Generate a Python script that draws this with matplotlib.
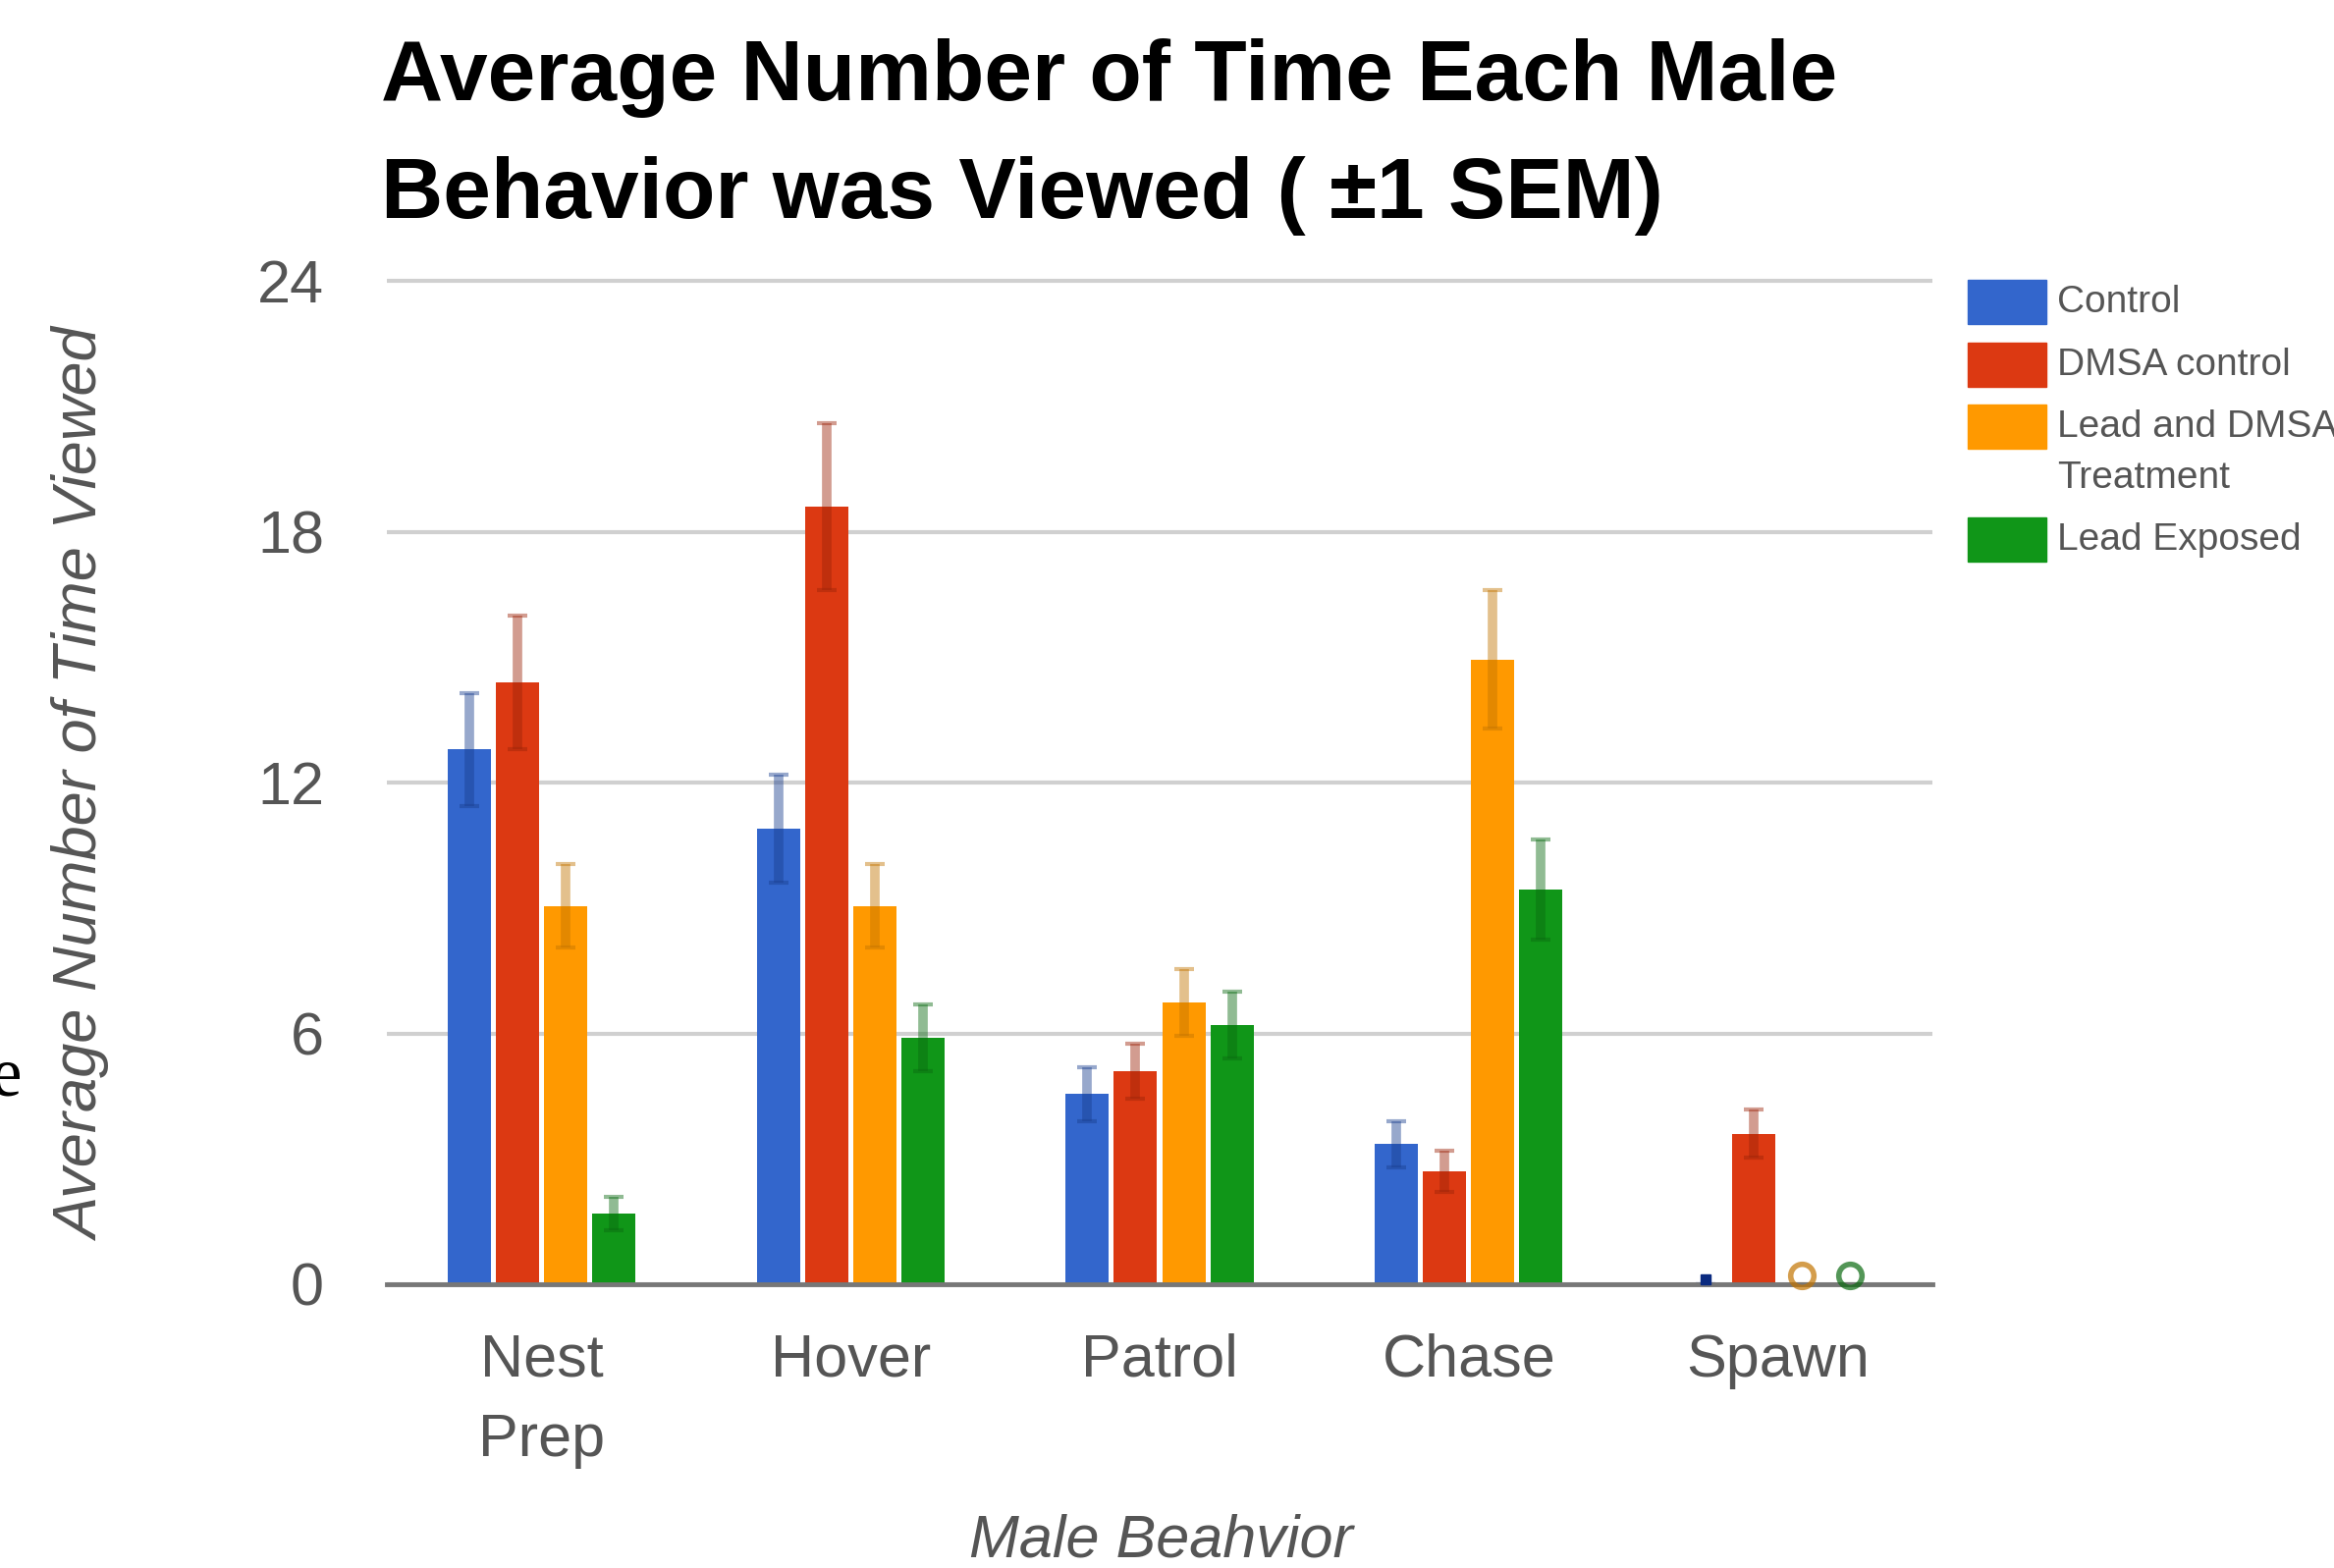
import numpy as np
import matplotlib
matplotlib.use("Agg")
import matplotlib.pyplot as plt
from matplotlib.patches import Rectangle

plt.rcParams['font.family'] = ['Liberation Sans', 'DejaVu Sans']

# data
behaviors = ["Nest\nPrep", "Hover", "Patrol", "Chase", "Spawn"]
series = ["Control", "DMSA control", "Lead and DMSA\nTreatment", "Lead Exposed"]
control = [12.8, 10.9, 4.55, 3.35, 0.0]
control_sem = [1.35, 1.3, 0.65, 0.55, 0.0]
dmsa = [14.4, 18.6, 5.1, 2.7, 3.6]
dmsa_sem = [1.6, 2.0, 0.65, 0.5, 0.58]
lead_dmsa = [9.05, 9.05, 6.75, 14.95, 0.0]
lead_dmsa_sem = [1.0, 1.0, 0.8, 1.65, 0.0]
lead = [1.7, 5.9, 6.2, 9.45, 0.0]
lead_sem = [0.4, 0.8, 0.8, 1.2, 0.0]
yticks = [0, 6, 12, 18, 24]

values = [control, dmsa, lead_dmsa, lead]
sems = [control_sem, dmsa_sem, lead_dmsa_sem, lead_sem]
colors = ['#3366cc', '#dc3912', '#ff9900', '#109618']
err_colors = ['#1a3f8f', '#9c2409', '#c27400', '#0a6a10']
zero_marks = ['s', None, 'o', 'o']   # how an empty bar shows on the baseline

W, H = 2377, 1597
fig = plt.figure(figsize=(W / 100, H / 100), dpi=100)
ax = fig.add_axes([394 / W, 1 - 1308 / H, (1968 - 394) / W, (1308 - 282.2) / H])

x = np.arange(len(behaviors))
slot = 0.156
bar_w = 0.14
for i in range(len(series)):
    xs = x + (i - 1.5) * slot
    ax.bar(xs, values[i], width=bar_w, color=colors[i], zorder=3)
    ax.errorbar(xs, values[i], yerr=sems[i], fmt='none', ecolor=err_colors[i],
                alpha=0.45, elinewidth=7, capsize=7, capthick=3, zorder=4)
    zero = np.array(values[i]) == 0
    if zero_marks[i] == 'o':
        ax.plot(xs[zero], np.full(zero.sum(), 0.22), 'o', mfc='none',
                mec=err_colors[i], mew=4, ms=17, alpha=0.7, zorder=7, clip_on=False)
    elif zero_marks[i] == 's':
        ax.plot(xs[zero], np.full(zero.sum(), 0.12), 's', color='#0a2a80',
                ms=7, zorder=7, clip_on=False)

ax.set_xlim(-0.5, len(behaviors) - 0.5)
ax.set_ylim(0, 24.1)
ax.set_yticks(yticks)
ax.set_xticks(x)
ax.set_xticklabels(behaviors, fontsize=44, color='#555555', linespacing=1.55)
ax.set_yticklabels([str(t) for t in yticks], fontsize=44, color='#555555')
ax.tick_params(axis='y', length=0, pad=46)
ax.tick_params(axis='x', length=0, pad=36)
ax.yaxis.grid(True, color='#d0d0d0', linewidth=3, zorder=0)
ax.set_axisbelow(True)
for s in ['top', 'right', 'left']:
    ax.spines[s].set_visible(False)
ax.spines['bottom'].set_color('#777777')
ax.spines['bottom'].set_linewidth(3.5)
ax.spines['bottom'].set_zorder(6)

# title in two lines
fig.text(388 / W, 1 - 102 / H, "Average Number of Time Each Male",
         fontsize=63, fontweight='bold', ha='left', va='baseline')
fig.text(388 / W, 1 - 222 / H, "Behavior was Viewed ( \u00b11 SEM)",
         fontsize=63, fontweight='bold', ha='left', va='baseline')

fig.text(85 / W, 1 - 800 / H, "Average Number of Time Viewed", rotation=90,
         fontsize=45.5, style='italic', color='#555555', ha='center', va='center')
fig.text(1182 / W, 1 - 1585 / H, "Male Beahvior", fontsize=44, style='italic',
         color='#555555', ha='center', va='baseline')

# stray glyph at the left edge of the screenshot
fig.text(22 / W, 1 - 1115 / H, "e", fontsize=51, family='Liberation Serif',
         color='black', ha='right', va='baseline')

# legend
leg_y = [308, 372, 435, 550]
for i, name in enumerate(series):
    fig.patches.append(Rectangle((2004 / W, 1 - (leg_y[i] + 22) / H), 80 / W, 45 / H,
                                 transform=fig.transFigure, color=colors[i]))
    for j, line in enumerate(name.split("\n")):
        fig.text(2095 / W, 1 - (leg_y[i] + 52 * j) / H, line, fontsize=28,
                 color='#555555', ha='left', va='center')

fig.savefig("out.png", dpi=100)
